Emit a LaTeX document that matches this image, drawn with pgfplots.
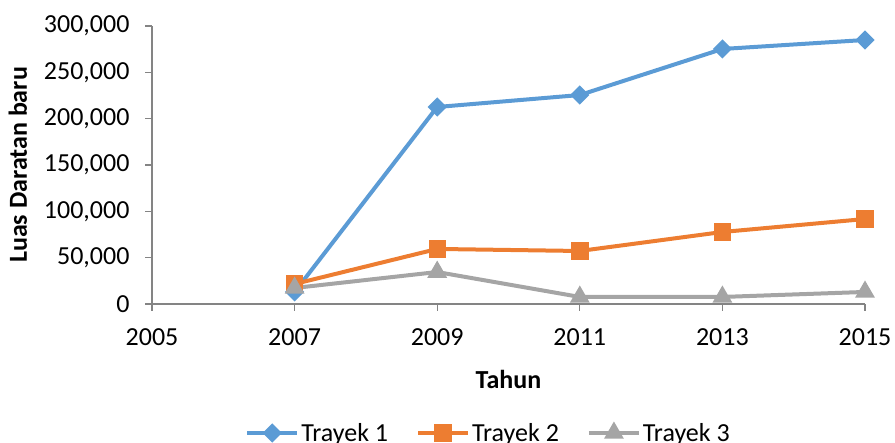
\documentclass[border=0pt]{standalone}
\usepackage{pgfplots}
\pgfplotsset{compat=1.18}
\usepackage{fontspec}
\setmainfont{Carlito}
\definecolor{c1}{HTML}{5B9BD5}
\definecolor{c2}{HTML}{ED7D31}
\definecolor{c3}{HTML}{A5A5A5}
\begin{document}
\begin{tikzpicture}
\begin{axis}[
  scale only axis, width=713pt, height=278pt,
  xmin=2005, xmax=2015, ymin=0, ymax=300000,
  xtick={2005,2007,...,2015}, ytick={0,50000,...,300000},
  scaled y ticks=false,
  /pgf/number format/assume math mode=true,
  yticklabel style={/pgf/number format/.cd, fixed, 1000 sep={,}, /tikz/.cd, xshift=-12pt},
  xticklabel style={/pgf/number format/.cd, 1000 sep={}, /tikz/.cd, yshift=-14pt},
  font=\fontsize{26}{31}\selectfont,
  tick label style={font=\fontsize{26}{31}\selectfont},
  axis x line*=bottom, axis y line*=left,
  axis line style={draw=c3!80!black, line width=1.2pt},
  tick style={draw=c3!80!black, line width=1.2pt},
  tick align=outside, major tick length=7pt,
  xlabel={\textbf{Tahun}}, ylabel={\textbf{Luas Daratan baru}},
  xlabel style={at={(axis description cs:0.5,-0.273)}, anchor=center},
  ylabel style={at={(axis description cs:-0.188,0.5)}, anchor=center},
  legend style={at={(axis description cs:0.472,-0.464)}, anchor=center, draw=none,
    font=\fontsize{26}{31}\selectfont, nodes={inner xsep=2pt},
    /tikz/every even column/.append style={column sep=26pt}},
  legend columns=3,
  legend image code/.code={
    \draw[#1, mark repeat=2, mark phase=2] plot coordinates {(0pt,0pt) (25pt,0pt) (50pt,0pt)};},
]
\addplot[c1, line width=4pt, mark=square*, mark size=4.8pt, mark options={rotate=45, solid}] coordinates {
(2007,13000) (2009,212600) (2011,225500) (2013,275200) (2015,284900)};
\addlegendentry{Trayek 1}
\addplot[c2, line width=4pt, mark=square*, mark size=6.7pt] coordinates {
(2007,21600) (2009,59400) (2011,57200) (2013,77700) (2015,91700)};
\addlegendentry{Trayek 2}
\addplot[c3, line width=4pt, mark=triangle*, mark size=7.5pt] coordinates {
(2007,17300) (2009,34500) (2011,7600) (2013,7600) (2015,13000)};
\addlegendentry{Trayek 3}
\end{axis}
\pgfresetboundingbox
\path (-152pt,-139pt) rectangle (743pt,304pt);
\end{tikzpicture}
\end{document}
